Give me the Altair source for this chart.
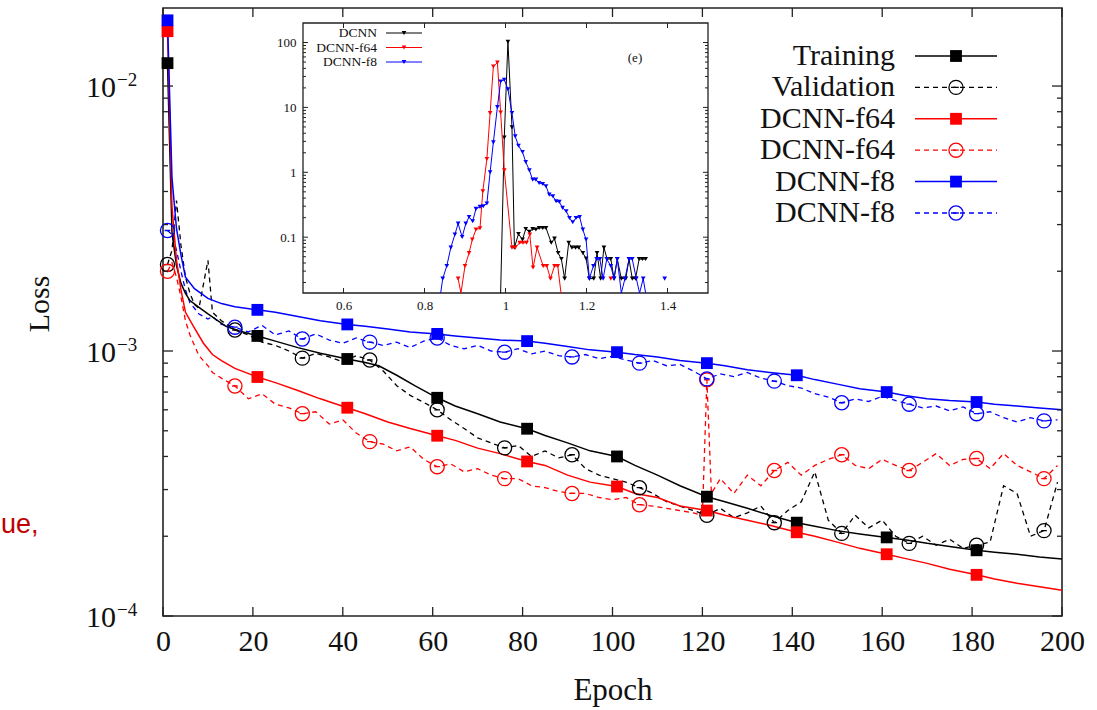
import altair as alt
import pandas as pd

# ---------------- main chart data ----------------
TRAIN_EP = [1, 2, 3, 4, 5, 6, 8, 10, 14, 17, 21, 25, 30, 35, 41, 45, 48, 52, 56, 61,
            65, 70, 75, 81, 85, 90, 95, 101, 105, 110, 115, 121, 125, 130, 135, 141, 145, 150, 155, 161,
            165, 170, 175, 181, 185, 190, 195, 200]
TRAIN_DCNN = [0.0122, 0.0028, 0.0021, 0.0018, 0.00165, 0.00155, 0.00146, 0.00138, 0.00124, 0.00119,
              0.00114, 0.00109, 0.00103, 0.00098, 0.000933, 0.000905, 0.00088, 0.00081, 0.00074, 0.000666,
              0.00062, 0.00058, 0.00054, 0.000509, 0.00048, 0.00045, 0.00042, 0.00040, 0.00037, 0.00034,
              0.00031, 0.000282, 0.00027, 0.000255, 0.00024, 0.000225, 0.000218, 0.000210, 0.000204, 0.000198,
              0.000194, 0.000188, 0.000183, 0.000177, 0.000174, 0.000171, 0.000167, 0.000164]

F64_EP = [1, 2, 3, 4, 5, 7, 9, 11, 13, 16, 21, 25, 30, 35, 41, 45, 50, 55, 61, 65,
          70, 75, 81, 85, 90, 95, 101, 105, 110, 115, 121, 125, 130, 135, 141, 145, 150, 155, 161, 165,
          170, 175, 181, 185, 190, 195, 200]
TRAIN_F64 = [0.0161, 0.0035, 0.0022, 0.0017, 0.0014, 0.00122, 0.00107, 0.00097, 0.00092, 0.00086,
             0.000798, 0.00076, 0.00071, 0.00066, 0.000611, 0.00058, 0.00054, 0.00051, 0.000479, 0.00046,
             0.00043, 0.00041, 0.000383, 0.00037, 0.00034, 0.00032, 0.000308, 0.00029, 0.00028, 0.00026,
             0.00025, 0.00024, 0.00023, 0.00022, 0.000207, 0.0002, 0.00019, 0.00018, 0.000171, 0.000165,
             0.000158, 0.00015, 0.000143, 0.000138, 0.000133, 0.000129, 0.000125]

F8_EP = [1, 2, 3, 4, 5, 7, 10, 13, 16, 21, 25, 30, 35, 41, 45, 50, 55, 61, 65, 70,
         75, 81, 85, 90, 95, 101, 105, 110, 115, 121, 125, 130, 135, 141, 145, 150, 155, 161, 165, 170,
         175, 181, 185, 190, 195, 200]
TRAIN_F8 = [0.0177, 0.0045, 0.0029, 0.0023, 0.0019, 0.00172, 0.00158, 0.00151, 0.00147, 0.00143,
            0.0014, 0.00135, 0.0013, 0.00126, 0.00124, 0.00121, 0.00118, 0.00116, 0.00114, 0.00112,
            0.0011, 0.00109, 0.00107, 0.00104, 0.00101, 0.00099, 0.00097, 0.00095, 0.00092, 0.0009,
            0.00088, 0.00085, 0.00083, 0.00081, 0.00078, 0.00075, 0.00072, 0.0007, 0.00068, 0.00066,
            0.00065, 0.000642, 0.00063, 0.00062, 0.00061, 0.0006]

VAL_EP = [1, 2, 3, 4, 5, 6, 7, 8, 10, 11,
          13, 16, 19, 22, 25, 28, 31, 34, 37, 40,
          43, 46, 49, 52, 55, 58, 61, 64, 67, 70,
          73, 76, 79, 82, 85, 88, 91, 94, 97, 100,
          103, 106, 109, 112, 115, 118, 121, 124, 127, 130,
          133, 136, 139, 142, 145, 148, 151, 154, 157, 160,
          163, 166, 169, 172, 175, 178, 181, 184, 187, 190,
          193, 196, 199]
VAL_DCNN = [2.12e-3, 2.4e-3, 3.7e-3, 2.5e-3, 1.9e-3, 1.65e-3, 1.5e-3, 1.45e-3, 2.2e-3, 1.4e-3,
            1.3e-3, 1.2e-3, 1.15e-3, 1.08e-3, 1.05e-3, 1.0e-3, 9.4e-4, 9.8e-4, 9.5e-4, 9.1e-4,
            9.6e-4, 9.25e-4, 8.4e-4, 7.4e-4, 6.8e-4, 6.4e-4, 6.0e-4, 5.5e-4, 5.1e-4, 4.7e-4,
            4.5e-4, 4.31e-4, 4.4e-4, 4.0e-4, 4.2e-4, 3.95e-4, 4.06e-4, 3.6e-4, 3.4e-4, 3.3e-4,
            3.2e-4, 3.05e-4, 2.9e-4, 2.7e-4, 2.6e-4, 2.5e-4, 2.4e-4, 2.55e-4, 2.35e-4, 2.45e-4,
            2.6e-4, 2.25e-4, 2.5e-4, 2.7e-4, 3.5e-4, 2.3e-4, 2.05e-4, 2.4e-4, 2.15e-4, 2.3e-4,
            2.0e-4, 1.88e-4, 2.0e-4, 1.85e-4, 1.95e-4, 1.8e-4, 1.85e-4, 1.9e-4, 3.1e-4, 2.9e-4,
            2.0e-4, 2.1e-4, 3.2e-4]
VAL_F8 = [2.85e-3, 2.75e-3, 2.4e-3, 2.0e-3, 1.7e-3, 1.52e-3, 1.45e-3, 1.38e-3, 1.32e-3, 1.35e-3,
          1.26e-3, 1.23e-3, 1.18e-3, 1.25e-3, 1.15e-3, 1.19e-3, 1.11e-3, 1.16e-3, 1.1e-3, 1.07e-3,
          1.12e-3, 1.08e-3, 1.05e-3, 1.08e-3, 1.03e-3, 1.09e-3, 1.12e-3, 1.05e-3, 1.02e-3, 1.05e-3,
          1.0e-3, 9.9e-4, 1.02e-3, 9.75e-4, 1.0e-3, 9.6e-4, 9.5e-4, 9.7e-4, 9.35e-4, 9.55e-4,
          9.25e-4, 9.0e-4, 9.2e-4, 8.8e-4, 8.9e-4, 8.4e-4, 7.85e-4, 8.2e-4, 8.0e-4, 8.3e-4,
          7.9e-4, 7.7e-4, 7.4e-4, 7.25e-4, 6.9e-4, 6.7e-4, 6.38e-4, 6.6e-4, 6.45e-4, 6.75e-4,
          6.5e-4, 6.3e-4, 6.1e-4, 6.2e-4, 5.95e-4, 6.15e-4, 5.8e-4, 5.9e-4, 5.6e-4, 5.4e-4,
          5.6e-4, 5.45e-4, 5.5e-4]

VAL_EP_F64 = [1, 2, 3, 4, 5, 6, 7, 8, 10, 11,
              13, 16, 19, 22, 25, 28, 31, 34, 37, 40,
              43, 46, 49, 52, 55, 58, 61, 64, 67, 70,
              73, 76, 79, 82, 85, 88, 91, 94, 97, 100,
              103, 106, 109, 112, 115, 118, 120, 121, 122, 124,
              127, 130, 133, 136, 139, 142, 145, 148, 151, 154,
              157, 160, 163, 166, 169, 172, 175, 178, 181, 184,
              187, 190, 193, 196, 199]
VAL_F64 = [2.0e-3, 2.15e-3, 1.9e-3, 1.6e-3, 1.3e-3, 1.15e-3, 1.05e-3, 9.6e-4, 8.8e-4, 8.3e-4,
           7.9e-4, 7.38e-4, 6.6e-4, 6.9e-4, 6.3e-4, 6.1e-4, 5.8e-4, 5.9e-4, 5.3e-4, 5.5e-4,
           4.9e-4, 4.55e-4, 4.45e-4, 4.2e-4, 4.35e-4, 3.9e-4, 3.66e-4, 3.75e-4, 3.5e-4, 3.6e-4,
           3.4e-4, 3.3e-4, 3.3e-4, 3.1e-4, 3.05e-4, 2.95e-4, 2.9e-4, 2.9e-4, 2.8e-4, 2.75e-4,
           2.8e-4, 2.63e-4, 2.6e-4, 2.55e-4, 2.5e-4, 2.45e-4, 2.4e-4, 7.78e-4, 2.9e-4, 3.3e-4,
           2.9e-4, 3.4e-4, 3.1e-4, 3.54e-4, 3.8e-4, 3.4e-4, 3.7e-4, 3.9e-4, 4.06e-4, 3.7e-4,
           3.6e-4, 3.9e-4, 3.7e-4, 3.54e-4, 3.8e-4, 4.1e-4, 3.7e-4, 3.9e-4, 3.93e-4, 3.6e-4,
           4.1e-4, 3.7e-4, 3.5e-4, 3.3e-4, 3.7e-4]

TRAIN_MARK = [1, 21, 41, 61, 81, 101, 121, 141, 161, 181]
VAL_MARK = [1, 16, 31, 46, 61, 76, 91, 106, 121, 136, 151, 166, 181, 196]

X_TICKS = [0, 20, 40, 60, 80, 100, 120, 140, 160, 180, 200]
Y_MAJOR = [1e-4, 1e-3, 1e-2]
Y_LABEL_BASE = ["10", "10", "10"]
Y_LABEL_EXP = ["\u22124", "\u22123", "\u22122"]
Y_MINOR = [2e-4, 3e-4, 4e-4, 5e-4, 6e-4, 7e-4, 8e-4, 9e-4,
           2e-3, 3e-3, 4e-3, 5e-3, 6e-3, 7e-3, 8e-3, 9e-3]

LEGEND_LABELS = ["Training", "Validation", "DCNN-f64", "DCNN-f64", "DCNN-f8", "DCNN-f8"]
LEGEND_COLORS = ["#000000", "#000000", "#ff0000", "#ff0000", "#0000ff", "#0000ff"]
LEGEND_DASHED = [False, True, False, True, False, True]

# ---------------- inset data (histogram) ----------------
INSET_X_DCNN = [0.988, 0.997, 1.006, 1.016, 1.022, 1.032, 1.042, 1.050, 1.059, 1.067,
                1.075, 1.083, 1.092, 1.100, 1.113, 1.121, 1.130, 1.138, 1.146, 1.156,
                1.164, 1.173, 1.181, 1.191, 1.199, 1.207, 1.218, 1.226, 1.235, 1.243,
                1.251, 1.260, 1.268, 1.276, 1.286, 1.297, 1.305, 1.313, 1.321, 1.330,
                1.338, 1.346]
INSET_V_DCNN = [0, 3.45, 103, 4.92, 0.069, 0.112, 0.092, 0.134, 0.121, 0.134,
                0.131, 0.139, 0.139, 0.139, 0.082, 0.095, 0.057, 0.046, 0.023, 0.082,
                0.069, 0.069, 0.069, 0.057, 0.047, 0.023, 0.023, 0.057, 0.023, 0.069,
                0.046, 0.046, 0.023, 0.046, 0.023, 0.023, 0.046, 0.023, 0.023, 0.046,
                0.046, 0.046]
INSET_X_F64 = [0.883, 0.890, 0.900, 0.910, 0.918, 0.927, 0.937, 0.944, 0.954, 0.962,
               0.970, 0.980, 0.988, 0.997, 1.016, 1.024, 1.035, 1.043, 1.052, 1.060,
               1.068, 1.078, 1.093, 1.102, 1.111, 1.121, 1.129, 1.137, 1.200, 1.260]
INSET_V_F64 = [0.023, 0, 0.036, 0.057, 0.092, 0.131, 0.137, 0.51, 1.60, 8.18,
               42.7, 49.2, 8.37, 1.07, 0.069, 0.069, 0.082, 0.082, 0.082, 0.11,
               0.034, 0.069, 0.036, 0.036, 0.023, 0.036, 0.036, 0, None, 0.023]
INSET_X_F8 = [0.840, 0.845, 0.855, 0.865, 0.875, 0.883, 0.893, 0.902, 0.910, 0.919,
              0.927, 0.937, 0.945, 0.954, 0.962, 0.970, 0.980, 0.988, 0.997, 1.006,
              1.016, 1.024, 1.032, 1.042, 1.050, 1.059, 1.067, 1.075, 1.083, 1.092,
              1.100, 1.108, 1.117, 1.125, 1.133, 1.141, 1.150, 1.158, 1.166, 1.174,
              1.183, 1.191, 1.199, 1.207, 1.217, 1.225, 1.233, 1.241, 1.250, 1.260,
              1.268, 1.276, 1.286, 1.295, 1.305, 1.313, 1.323, 1.331, 1.340, 1.346,
              1.370, 1.393]
INSET_V_F8 = [0, 0.023, 0.036, 0.069, 0.110, 0.162, 0.101, 0.162, 0.205, 0.176,
              0.273, 0.293, 0.300, 0.330, 1.0, 2.89, 10.1, 25.1, 26.7, 19.1,
              8.18, 3.58, 2.57, 2.05, 1.44, 1.07, 0.771, 0.771, 0.686, 0.662,
              0.609, 0.453, 0.427, 0.358, 0.350, 0.283, 0.251, 0.198, 0.170, 0.198,
              0.205, 0.131, 0.092, 0.023, 0.036, 0.046, 0.046, 0.023, 0.046, 0.036,
              0.023, 0.046, 0, 0.023, 0.046, 0.046, 0.023, 0, 0.023, 0,
              None, 0.023]

INSET_X_TICKS = [0.6, 0.8, 1.0, 1.2, 1.4]
INSET_Y_MAJOR = [0.1, 1, 10, 100]
INSET_Y_MINOR = [0.02, 0.03, 0.04, 0.05, 0.06, 0.07, 0.08, 0.09,
                 0.2, 0.3, 0.4, 0.5, 0.6, 0.7, 0.8, 0.9,
                 2, 3, 4, 5, 6, 7, 8, 9,
                 20, 30, 40, 50, 60, 70, 80, 90]
INSET_LABELS = ["DCNN", "DCNN-f64", "DCNN-f8"]
INSET_COLORS = ["#000000", "#ff0000", "#0000ff"]

# ---------------- layout constants ----------------
W, H = 899, 608
FONT = "Liberation Serif"
AX = "#222222"
CIRCLE_DASH = "M-1,0A1,1,0,1,1,1,0A1,1,0,1,1,-1,0M-0.4,0L0.4,0"

XS = alt.Scale(domain=[0, 200], nice=False, zero=False)
YS = alt.Scale(type="log", domain=[1e-4, 0.0197], nice=False)
X_AXIS = alt.Axis(values=X_TICKS, title="Epoch", ticks=False, domain=False, grid=False,
                  orient="bottom", labelFont=FONT, labelFontSize=30, labelColor="#111",
                  labelPadding=10, labelFlush=False, labelOverlap=False,
                  titleFont=FONT, titleFontSize=31, titleFontWeight="normal",
                  titleColor="#111", titlePadding=19)


def ex(field):
    return alt.X(field, type="quantitative", scale=XS, axis=X_AXIS)


def ey(field):
    return alt.Y(field, type="quantitative", scale=YS, axis=None)


series = [
    (VAL_EP, VAL_DCNN, "#000000", True, VAL_MARK),
    (VAL_EP_F64, VAL_F64, "#ff0000", True, VAL_MARK),
    (VAL_EP, VAL_F8, "#0000ff", True, VAL_MARK),
    (TRAIN_EP, TRAIN_DCNN, "#000000", False, TRAIN_MARK),
    (F64_EP, TRAIN_F64, "#ff0000", False, TRAIN_MARK),
    (F8_EP, TRAIN_F8, "#0000ff", False, TRAIN_MARK),
]

main_layers = []
marker_layers = []
for eps, vals, col, dashed, marks in series:
    df = pd.DataFrame({"epoch": eps, "loss": vals})
    kw = dict(color=col, strokeWidth=1.3 if dashed else 1.5)
    if dashed:
        kw["strokeDash"] = [5, 4]
    main_layers.append(alt.Chart(df).mark_line(**kw).encode(x=ex("epoch"), y=ey("loss")))
    mdf = df[df["epoch"].isin(marks)]
    if dashed:
        pm = alt.Chart(mdf).mark_point(shape=CIRCLE_DASH, filled=False, size=200,
                                        color=col, strokeWidth=1.3, opacity=1)
    else:
        pm = alt.Chart(mdf).mark_point(shape="square", filled=True, size=140,
                                        color=col, opacity=1)
    marker_layers.append(pm.encode(x=ex("epoch"), y=ey("loss")))
main_layers += marker_layers

# main inward ticks
xt = pd.DataFrame({"v": X_TICKS})
main_layers.append(alt.Chart(xt).mark_rule(color=AX, strokeWidth=1.3).encode(
    x=ex("v"), y=alt.value(H), y2=alt.value(H - 9)))
main_layers.append(alt.Chart(xt).mark_rule(color=AX, strokeWidth=1.3).encode(
    x=ex("v"), y=alt.value(0), y2=alt.value(9)))
ymaj = pd.DataFrame({"v": Y_MAJOR, "base": Y_LABEL_BASE, "exp": Y_LABEL_EXP})
ymin = pd.DataFrame({"v": Y_MINOR})
for d, ln in ((ymaj, 10), (ymin, 5)):
    main_layers.append(alt.Chart(d).mark_rule(color=AX, strokeWidth=1.3).encode(
        y=ey("v"), x=alt.value(0), x2=alt.value(ln)))
    main_layers.append(alt.Chart(d).mark_rule(color=AX, strokeWidth=1.3).encode(
        y=ey("v"), x=alt.value(W), x2=alt.value(W - ln)))

# y tick labels with real superscripts
main_layers.append(alt.Chart(ymaj).mark_text(align="right", baseline="middle", font=FONT,
                                             fontSize=30, color="#111", dy=2).encode(
    y=ey("v"), x=alt.value(-47), text="base:N"))
main_layers.append(alt.Chart(ymaj).mark_text(align="left", baseline="middle", font=FONT,
                                             fontSize=19, color="#111", dy=-6).encode(
    y=ey("v"), x=alt.value(-46), text="exp:N"))

# y axis title
main_layers.append(alt.Chart(pd.DataFrame({"t": ["Loss"]})).mark_text(
    angle=270, align="center", baseline="middle", font=FONT, fontSize=30, color="#111").encode(
    text="t:N", x=alt.value(-123), y=alt.value(296)))

# main legend
for i, (lab, col, dashed) in enumerate(zip(LEGEND_LABELS, LEGEND_COLORS, LEGEND_DASHED)):
    yy = 48 + 31.4 * i
    d = pd.DataFrame({"label": [lab]})
    main_layers.append(alt.Chart(d).mark_text(align="right", baseline="middle", font=FONT,
                                              fontSize=30, color="#111").encode(
        text="label:N", x=alt.value(732), y=alt.value(yy)))
    kw = dict(color=col, strokeWidth=1.3 if dashed else 1.5)
    if dashed:
        kw["strokeDash"] = [5, 4]
    main_layers.append(alt.Chart(d).mark_rule(**kw).encode(
        x=alt.value(752), x2=alt.value(834), y=alt.value(yy)))
    if dashed:
        pm = alt.Chart(d).mark_point(shape=CIRCLE_DASH, filled=False, size=200, color=col,
                                     strokeWidth=1.3, opacity=1)
    else:
        pm = alt.Chart(d).mark_point(shape="square", filled=True, size=140, color=col, opacity=1)
    main_layers.append(pm.encode(x=alt.value(793), y=alt.value(yy)))

# stray slide text at the left edge
main_layers.append(alt.Chart(pd.DataFrame({"t": ["ue,"]})).mark_text(
    align="left", baseline="middle", font="Liberation Sans", fontSize=27, color="#c00000").encode(
    text="t:N", x=alt.value(-162), y=alt.value(517)))

main = alt.layer(*main_layers)

# ---------------- inset ----------------
IXL, IXR, IYB, IYT = 140, 545, 285, 15
IXS = alt.Scale(domain=[0.5, 1.5], range=[IXL, IXR], nice=False, zero=False, clamp=True)
IYS = alt.Scale(type="log", domain=[0.0138, 200], range=[IYB, IYT], nice=False, clamp=True)
IX_AXIS = alt.Axis(values=INSET_X_TICKS, orient="bottom", offset=IYB - H, ticks=False,
                   domain=False, grid=False, title=None, format="~g", labelFont=FONT,
                   labelFontSize=13, labelColor="#111", labelPadding=6, labelFlush=False)
IY_AXIS = alt.Axis(values=INSET_Y_MAJOR, orient="left", offset=-IXL, ticks=False,
                   domain=False, grid=False, title=None, format="~g", labelFont=FONT,
                   labelFontSize=13, labelColor="#111", labelPadding=7, labelOverlap=False)


def ix(field):
    return alt.X(field, type="quantitative", scale=IXS, axis=IX_AXIS)


def iy(field):
    return alt.Y(field, type="quantitative", scale=IYS, axis=IY_AXIS)


inset_layers = [
    alt.Chart(pd.DataFrame({"a": [0.5], "b": [1.5], "c": [0.0138], "d": [200]}))
    .mark_rect(fill="white", stroke=AX, strokeWidth=1.3)
    .encode(x=ix("a"), x2="b:Q", y=iy("c"), y2="d:Q")
]
for xs_, vs_, col in ((INSET_X_DCNN, INSET_V_DCNN, "#000000"),
                      (INSET_X_F64, INSET_V_F64, "#ff0000"),
                      (INSET_X_F8, INSET_V_F8, "#0000ff")):
    line_v = [None if v is None else (0.004 if v == 0 else v) for v in vs_]
    ldf = pd.DataFrame({"x": xs_, "v": line_v})
    pdf = pd.DataFrame({"x": [a for a, b in zip(xs_, vs_) if b], "v": [b for b in vs_ if b]})
    inset_layers.append(alt.Chart(ldf).mark_line(color=col, strokeWidth=1).encode(
        x=ix("x"), y=iy("v")))
    inset_layers.append(alt.Chart(pdf).mark_point(shape="triangle-down", filled=True, size=22,
                                                  color=col, opacity=1).encode(
        x=ix("x"), y=iy("v")))

ixt = pd.DataFrame({"v": INSET_X_TICKS})
inset_layers.append(alt.Chart(ixt).mark_rule(color=AX, strokeWidth=1).encode(
    x=ix("v"), y=alt.value(IYB), y2=alt.value(IYB - 5)))
inset_layers.append(alt.Chart(ixt).mark_rule(color=AX, strokeWidth=1).encode(
    x=ix("v"), y=alt.value(IYT), y2=alt.value(IYT + 5)))
for vals, ln in ((INSET_Y_MAJOR, 5), (INSET_Y_MINOR, 3)):
    d = pd.DataFrame({"v": vals})
    inset_layers.append(alt.Chart(d).mark_rule(color=AX, strokeWidth=1).encode(
        y=iy("v"), x=alt.value(IXL), x2=alt.value(IXL + ln)))
    inset_layers.append(alt.Chart(d).mark_rule(color=AX, strokeWidth=1).encode(
        y=iy("v"), x=alt.value(IXR), x2=alt.value(IXR - ln)))

for i, (lab, col) in enumerate(zip(INSET_LABELS, INSET_COLORS)):
    yy = 25 + 14.5 * i
    d = pd.DataFrame({"label": [lab]})
    inset_layers.append(alt.Chart(d).mark_text(align="right", baseline="middle", font=FONT,
                                               fontSize=13.5, color="#111").encode(
        text="label:N", x=alt.value(214), y=alt.value(yy)))
    inset_layers.append(alt.Chart(d).mark_rule(color=col, strokeWidth=1).encode(
        x=alt.value(223), x2=alt.value(259), y=alt.value(yy)))
    inset_layers.append(alt.Chart(d).mark_point(shape="triangle-down", filled=True, size=22,
                                                color=col, opacity=1).encode(
        x=alt.value(241), y=alt.value(yy)))

inset_layers.append(alt.Chart(pd.DataFrame({"t": ["(e)"]})).mark_text(
    align="center", baseline="middle", font=FONT, fontSize=13, color="#111").encode(
    text="t:N", x=alt.value(472), y=alt.value(50)))

inset = alt.layer(*inset_layers)

chart = (
    alt.layer(main, inset)
    .resolve_scale(x="independent", y="independent")
    .properties(width=W, height=H,
                autosize=alt.AutoSizeParams(type="none"),
                padding={"left": 163, "top": 8, "right": 35, "bottom": 94},
                background="white")
    .configure_view(stroke=AX, strokeWidth=1.6)
)

chart.save("out.html", embed_options={"renderer": "svg", "actions": False})
